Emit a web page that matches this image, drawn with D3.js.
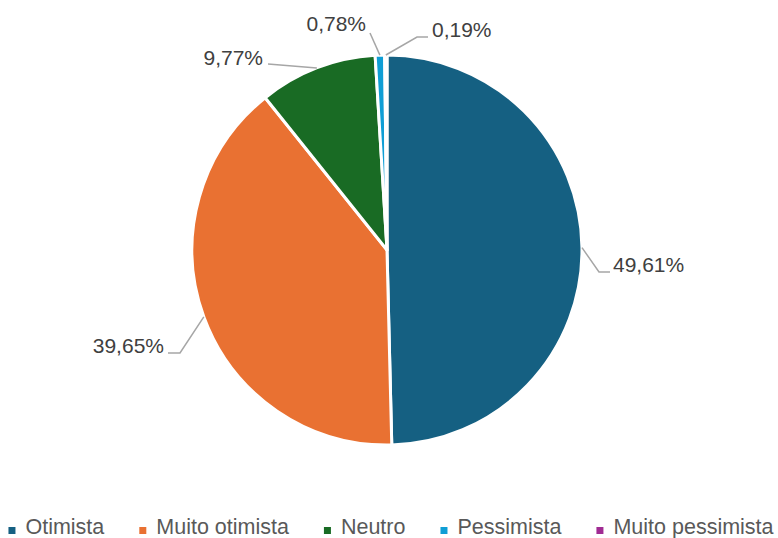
<!DOCTYPE html>
<html>
<head>
<meta charset="utf-8">
<script src="https://cdn.jsdelivr.net/npm/d3@7"></script>
<style>
  body { margin: 0; background: #ffffff; }
  svg { display: block; }
</style>
</head>
<body>
<div id="chart"></div>
<script>
// data
const categories = ["Otimista", "Muito otimista", "Neutro", "Pessimista", "Muito pessimista"];
const percents = [49.61, 39.65, 9.77, 0.78, 0.19];
const labels = ["49,61%", "39,65%", "9,77%", "0,78%", "0,19%"];
const colors = ["#156082", "#e97132", "#196b24", "#0f9ed5", "#a02b93"];

// dimensions
const width = 778;
const height = 538;
const cx = 387;
const cy = 250;
const radius = 195;

// label placement (text baseline point, anchor, elbow of leader line)
const labelLayout = [
  { tx: 613, ty: 272, anchor: "start", ex: 599, ey: 272, end: 610 },
  { tx: 164, ty: 353, anchor: "end", ex: 180, ey: 353, end: 168 },
  { tx: 263, ty: 65, anchor: "end", ex: null, ey: null, end: 268 },
  { tx: 366, ty: 31, anchor: "end", ex: null, ey: null, end: 370, endY: 33 },
  { tx: 432, ty: 37, anchor: "start", ex: 417, ey: 37, end: 428 }
];

const svg = d3.select("#chart")
  .append("svg")
  .attr("width", width)
  .attr("height", height)
  .style("background", "#ffffff");

const color = d3.scaleOrdinal()
  .domain(categories)
  .range(colors);

const pie = d3.pie()
  .sort(null)
  .value(d => d.value);

const slices = pie(categories.map((c, i) => ({ name: c, value: percents[i], label: labels[i] })));

const arc = d3.arc()
  .innerRadius(0)
  .outerRadius(radius);

const g = svg.append("g")
  .attr("transform", `translate(${cx}, ${cy})`);

// slices
g.selectAll("path")
  .data(slices)
  .join("path")
  .attr("d", arc)
  .attr("fill", d => color(d.data.name))
  .attr("stroke", "#ffffff")
  .attr("stroke-width", 3)
  .attr("stroke-linejoin", "round");

// leader lines and labels
slices.forEach((d, i) => {
  const mid = (d.startAngle + d.endAngle) / 2;
  const px = cx + radius * Math.sin(mid);
  const py = cy - radius * Math.cos(mid);
  const L = labelLayout[i];
  const pts = [[px, py]];
  if (L.ex !== null) {
    pts.push([L.ex, L.ey]);
    pts.push([L.end, L.ey]);
  } else {
    pts.push([L.end, L.endY !== undefined ? L.endY : L.ty - 1]);
  }
  svg.append("path")
    .attr("d", d3.line()(pts))
    .attr("fill", "none")
    .attr("stroke", "#a6a6a6")
    .attr("stroke-width", 1.5);

  svg.append("text")
    .attr("x", L.tx)
    .attr("y", L.ty)
    .attr("text-anchor", L.anchor)
    .style("font-family", "Liberation Sans, Arial, sans-serif")
    .style("font-size", "21px")
    .style("fill", "#404040")
    .text(d.data.label);
});

// legend
const legend = svg.append("g");
let xpos = 0;
categories.forEach((c, i) => {
  const item = legend.append("g");
  item.append("rect")
    .attr("x", 0)
    .attr("y", -7)
    .attr("width", 7)
    .attr("height", 7)
    .attr("fill", color(c));
  const t = item.append("text")
    .attr("x", 17)
    .attr("y", 0)
    .style("font-family", "Liberation Sans, Arial, sans-serif")
    .style("font-size", "21.5px")
    .style("fill", "#595959")
    .text(c);
  const w = 17 + t.node().getComputedTextLength();
  item.attr("transform", `translate(${xpos}, 0)`);
  xpos += w + 35;
});
const legendWidth = xpos - 35;
legend.attr("transform", `translate(${(width - legendWidth) / 2 + 2}, 534)`);
</script>
</body>
</html>
